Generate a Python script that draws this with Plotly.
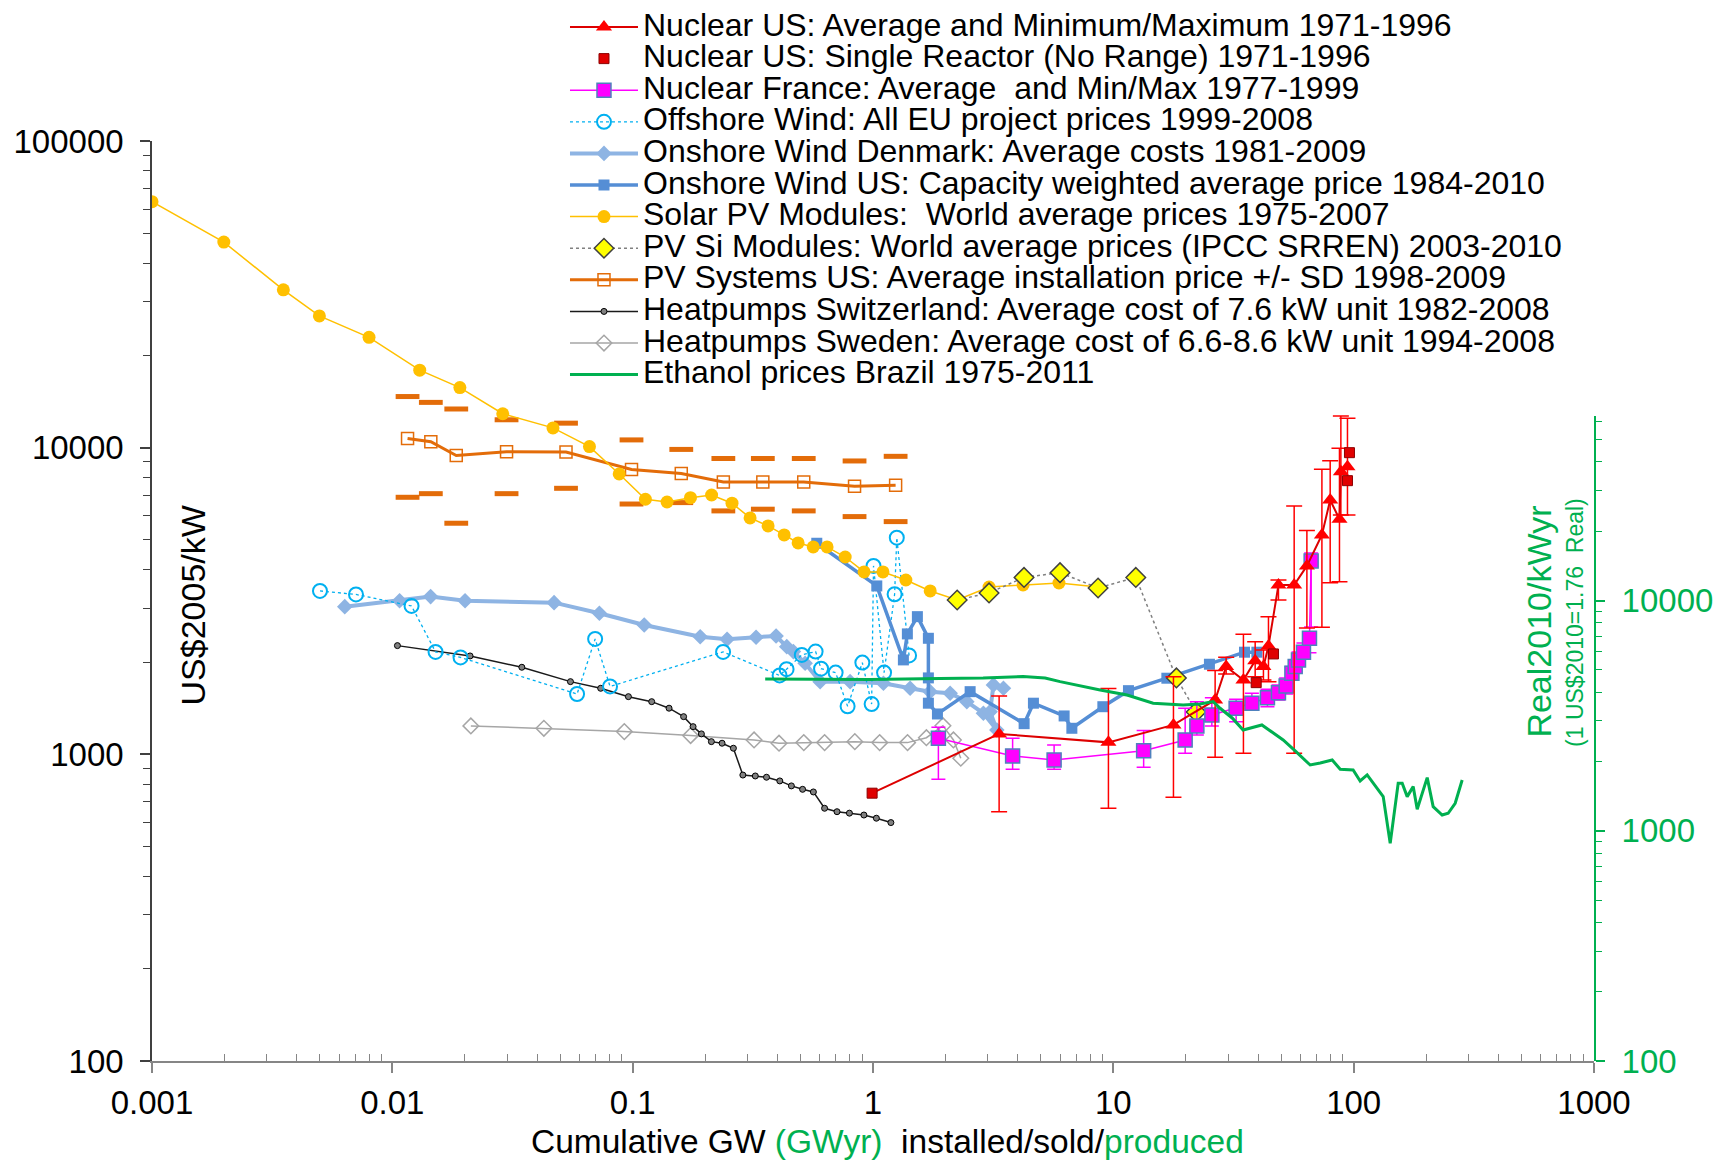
import plotly.graph_objects as go

# ---- data ----
solar_x = [0.001, 0.00199, 0.00352, 0.00497, 0.0080, 0.0130, 0.0191, 0.0288, 0.0466, 0.0661,
           0.0879, 0.113, 0.139, 0.174, 0.213, 0.259, 0.308, 0.366, 0.427, 0.488,
           0.564, 0.644, 0.766, 0.918, 1.10, 1.37, 1.73, 2.24, 3.04, 4.21, 5.94, 8.64]
solar_y = [63400, 46800, 32700, 26900, 22900, 17900, 15700, 12900, 11600, 10080,
           8210, 6790, 6650, 6870, 7010, 6590, 5900, 5555, 5195, 4890,
           4745, 4745, 4400, 3933, 3933, 3703, 3410, 3187, 3513, 3566, 3620, 3513]

pvsi_x = [2.24, 3.04, 4.25, 6.00, 8.64, 12.4, 18.3, 22.1]
pvsi_y = [3187, 3360, 3775, 3912, 3487, 3775, 1775, 1375]

pvsys_x = [0.01157, 0.01446, 0.01845, 0.02987, 0.0528, 0.0989, 0.1593, 0.2384, 0.348, 0.515, 0.838, 1.242]
pvsys_y = [10720, 10460, 9430, 9700, 9680, 8485, 8240, 7730, 7730, 7730, 7490, 7540]
pvsys_hi = [14680, 14050, 13370, 12330, 12020, 10600, 9870, 9220, 9220, 9220, 9050, 9370]
pvsys_lo = [6890, 7080, 5670, 7080, 7370, 6550, 6620, 6220, 6300, 6220, 5960, 5740]

offshore_x = [0.00500, 0.00706, 0.01202, 0.01513, 0.01922, 0.0587, 0.0698, 0.0805, 0.2378, 0.4087,
              0.4369, 0.5056, 0.5770, 0.608, 0.699, 0.784, 0.903, 0.987, 1.005, 1.112,
              1.230, 1.256, 1.413]
offshore_y = [3410, 3322, 3047, 2158, 2070, 1573, 2378, 1665, 2158, 1808,
              1895, 2110, 2163, 1902, 1847, 1435, 1991, 1458, 4116, 1847,
              3327, 5088, 2101]

denmark_x = [0.00634, 0.01072, 0.01443, 0.02007, 0.0471, 0.0727, 0.1117, 0.1910, 0.2471, 0.3262,
             0.3952, 0.4377, 0.4664, 0.5218, 0.6025, 0.8030, 1.105, 1.427, 1.729, 2.094,
             2.457, 2.880, 3.276, 3.071, 3.171, 3.489]
denmark_y = [3031, 3170, 3268, 3170, 3123, 2884, 2642, 2419, 2373, 2409,
             2432, 2245, 2163, 1982, 1726, 1726, 1705, 1642, 1601, 1582,
             1485, 1361, 1201, 1378, 1684, 1642]

onshore_x = [0.5836, 1.037, 1.338, 1.390, 1.530, 1.700, 1.700, 1.700, 1.854, 2.536,
             4.254, 4.651, 6.241, 6.721, 9.044, 11.56, 16.70, 25.11, 35.13, 39.56]
onshore_y = [4879, 3541, 2032, 2470, 2812, 2390, 1775, 1468, 1354, 1601,
             1259, 1468, 1334, 1216, 1430, 1613, 1771, 1967, 2153, 2153]

hpch_x = [0.01050, 0.02106, 0.03458, 0.0551, 0.0736, 0.0960, 0.1200, 0.1417, 0.1629, 0.1784,
          0.1932, 0.2126, 0.2355, 0.2625, 0.2874, 0.3238, 0.3605, 0.4095, 0.4575, 0.5093,
          0.5649, 0.6289, 0.7084, 0.7977, 0.9166, 1.033, 1.187]
hpch_y = [2262, 2093, 1923, 1726, 1642, 1542, 1485, 1414, 1327, 1231,
          1166, 1100, 1087, 1047, 856, 850, 842, 819, 789, 769,
          754, 667, 650, 643, 634, 619, 599]

hpse_x = [0.02122, 0.04271, 0.0923, 0.1742, 0.3200, 0.4064, 0.5152, 0.6289, 0.8402, 1.066,
          1.392, 1.668, 1.954, 2.161, 2.319]
hpse_y = [1238, 1216, 1186, 1151, 1114, 1087, 1092, 1092, 1100, 1092,
          1092, 1133, 1240, 1114, 971]

# ethanol is read on the right axis (Real2010/kWyr)
eth_x = [0.356, 0.9725, 1.902, 2.872, 4.213, 5.203, 6.004, 7.277, 8.814, 11.41,
         14.64, 19.52, 22.97, 26.03, 27.82, 31.22, 34.68, 41.5, 45.8, 50.9,
         57.7, 65.9, 72.6, 81.4, 87.9, 99.5, 106.4, 113.8, 132.7, 141.9,
         153.2, 159.2, 167.0, 176.9, 183.8, 202.3, 214.2, 233.5, 247.3, 264.5, 282.8]
eth_y = [4565, 4543, 4588, 4611, 4680, 4611, 4443, 4256, 4089, 3890,
         3580, 3520, 3555, 3638, 3405, 3090, 2741, 2882, 2687, 2480,
         2199, 1931, 1970, 2030, 1850, 1837, 1646, 1748, 1407, 882,
         1608, 1608, 1407, 1555, 1240, 1701, 1273, 1171, 1191, 1317, 1662]

nuc_x = [3.348, 9.541, 17.79, 26.52, 29.47, 34.78, 38.92, 42.13, 44.21, 48.65,
         56.55, 63.88, 73.77, 79.85, 87.28, 88.46, 94.24]
nuc_y = [1166, 1094, 1247, 1504, 1932, 1748, 2021, 1932, 2256, 3566,
         3566, 4116, 5195, 6753, 5841, 8353, 8670]
nuc_max = [1550, 1640, 1792, 1875, 2073, 2464, 2330, 2190, 2812, 3703,
           6454, 5364, 8503, 9070, 9954, 12690, 12470]
nuc_min = [650, 667, 725, 978, 1829, 1008, 1792, 1748, 1726, 3187,
           1008, 2583, 2597, 3628, 3656, 6035, 6035]

single_x = [0.9915, 39.30, 46.38, 94.24, 96.05]
single_y = [747, 1713, 2125, 7806, 9632]

fr_x = [1.871, 3.810, 5.670, 13.37, 19.90, 22.26, 25.70, 32.43, 37.71, 43.78,
        48.65, 52.37, 55.33, 57.11, 58.94, 61.82, 65.48, 66.54]
fr_y = [1128, 988, 959, 1028, 1114, 1238, 1344, 1414, 1468, 1530,
        1589, 1671, 1839, 1932, 2032, 2153, 2390, 4273]
fr_max = [1225, 1128, 1073, 1195, 1414, 1485, 1530, 1511, 1582, 1630,
          1684, 1775, 1932, 2032, 2158, 2307, 2510, 4537]
fr_min = [829, 894, 894, 907, 1008, 1157, 1238, 1278, 1395, 1430,
          1504, 1573, 1792, 1857, 1942, 2062, 2146, 2602]

x_ticks = [0.001, 0.01, 0.1, 1, 10, 100, 1000]
x_ticktext = ['0.001', '0.01', '0.1', '1', '10', '100', '1000']
y_ticks = [100, 1000, 10000, 100000]
y2_ticks = [100, 1000, 10000]

FONT = 'Liberation Sans'
GREEN = '#00B050'


def leg(name):
    # bigger text than the legend row height, like the original
    return f'<span style="font-size:32px">{name}</span>'


fig = go.Figure()

fig.add_trace(go.Scatter(x=hpse_x, y=hpse_y, mode='lines+markers', legendrank=11,
                         name=leg('Heatpumps Sweden: Average cost of 6.6-8.6 kW unit 1994-2008'),
                         line=dict(color='#A6A6A6', width=1.5),
                         marker=dict(symbol='diamond-open', size=12, color='#A6A6A6', line=dict(width=1.5))))

fig.add_trace(go.Scatter(x=hpch_x, y=hpch_y, mode='lines+markers', legendrank=10,
                         name=leg('Heatpumps Switzerland: Average cost of 7.6 kW unit 1982-2008'),
                         line=dict(color='#1A1A1A', width=1.5),
                         marker=dict(symbol='circle', size=6, color='#808080', line=dict(color='black', width=1))))

# SD dashes of PV systems
fig.add_trace(go.Scatter(x=pvsys_x + pvsys_x, y=pvsys_hi + pvsys_lo, mode='markers', showlegend=False,
                         marker=dict(symbol='line-ew', size=17, line=dict(color='#E36C09', width=5))))
fig.add_trace(go.Scatter(x=pvsys_x, y=pvsys_y, mode='lines+markers', legendrank=9,
                         name=leg('PV Systems US: Average installation price +/- SD 1998-2009'),
                         line=dict(color='#E36C09', width=3),
                         marker=dict(symbol='square-open', size=12, color='#E36C09', line=dict(width=1.5))))

fig.add_trace(go.Scatter(x=denmark_x, y=denmark_y, mode='lines+markers', legendrank=5,
                         name=leg('Onshore Wind Denmark: Average costs 1981-2009'),
                         line=dict(color='#8EB4E3', width=4),
                         marker=dict(symbol='diamond', size=12, color='#8EB4E3')))

fig.add_trace(go.Scatter(x=offshore_x, y=offshore_y, mode='lines+markers', legendrank=4,
                         name=leg('Offshore Wind: All EU project prices 1999-2008'),
                         line=dict(color='#00B0F0', width=1.3, dash='dot'),
                         marker=dict(symbol='circle-open', size=14, color='#00B0F0', line=dict(width=2))))

fig.add_trace(go.Scatter(x=onshore_x, y=onshore_y, mode='lines+markers', legendrank=6,
                         name=leg('Onshore Wind US: Capacity weighted average price 1984-2010'),
                         line=dict(color='#558ED5', width=3.5),
                         marker=dict(symbol='square', size=11, color='#558ED5')))

fig.add_trace(go.Scatter(x=solar_x, y=solar_y, mode='lines+markers', legendrank=7,
                         name=leg('Solar PV Modules:  World average prices 1975-2007'),
                         line=dict(color='#FFC000', width=1.5),
                         marker=dict(symbol='circle', size=13, color='#FFC000')))

fig.add_trace(go.Scatter(x=pvsi_x, y=pvsi_y, mode='lines+markers', legendrank=8,
                         name=leg('PV Si Modules: World average prices (IPCC SRREN) 2003-2010'),
                         line=dict(color='#808080', width=1.5, dash='dot'),
                         marker=dict(symbol='diamond', size=15, color='#FFFF00', line=dict(color='#404040', width=1.5))))

fig.add_trace(go.Scatter(x=fr_x, y=fr_y, mode='lines+markers', legendrank=3,
                         name=leg('Nuclear France: Average  and Min/Max 1977-1999'),
                         line=dict(color='#FF00FF', width=1.5),
                         marker=dict(symbol='square', size=14, color='#FF00FF', line=dict(color='#4F81BD', width=1.5)),
                         error_y=dict(type='data', symmetric=False,
                                      array=[m - v for m, v in zip(fr_max, fr_y)],
                                      arrayminus=[v - m for m, v in zip(fr_min, fr_y)],
                                      color='#FF00FF', thickness=1.5, width=7)))

# first single reactor joins the average line
fig.add_trace(go.Scatter(x=[single_x[0], nuc_x[0]], y=[single_y[0], nuc_y[0]], mode='lines',
                         showlegend=False, hoverinfo='skip', line=dict(color='#DD0000', width=2)))
fig.add_trace(go.Scatter(x=nuc_x, y=nuc_y, mode='lines+markers', legendrank=1,
                         name=leg('Nuclear US: Average and Minimum/Maximum 1971-1996'),
                         line=dict(color='#DD0000', width=2),
                         marker=dict(symbol='triangle-up', size=14, color='#FF0000'),
                         error_y=dict(type='data', symmetric=False,
                                      array=[m - v for m, v in zip(nuc_max, nuc_y)],
                                      arrayminus=[v - m for m, v in zip(nuc_min, nuc_y)],
                                      color='#FF0000', thickness=1.5, width=8)))
fig.add_trace(go.Scatter(x=single_x, y=single_y, mode='markers', legendrank=2,
                         name=leg('Nuclear US: Single Reactor (No Range) 1971-1996'),
                         marker=dict(symbol='square', size=10, color='#E00000', line=dict(color='#8C0000', width=1))))

fig.add_trace(go.Scatter(x=eth_x, y=eth_y, mode='lines', yaxis='y2', legendrank=12,
                         name=leg('Ethanol prices Brazil 1975-2011'),
                         line=dict(color=GREEN, width=3)))

minor_x = [m * 10.0 ** e for e in range(-3, 3) for m in range(2, 10)]
minor_y = [m * 10.0 ** e for e in range(2, 5) for m in range(2, 10)]
minor_y2 = [m * 10.0 ** e for e in range(2, 5) for m in range(2, 10) if m * 10.0 ** e < 63000]

# the page body keeps an 8px margin, so the figure is 8px smaller on each side
fig.update_layout(
    width=1719, height=1154,
    margin=dict(l=144, r=133, t=133, b=101, autoexpand=False),
    plot_bgcolor='rgba(0,0,0,0)', paper_bgcolor='white',
    font=dict(family=FONT, size=33, color='black'),
    xaxis=dict(type='log', range=[-3, 3], tickvals=x_ticks, ticktext=x_ticktext,
               ticks='outside', ticklen=10, tickwidth=1.5, tickcolor='#868686',
               showline=True, linecolor='#868686', linewidth=1.5, showgrid=False, zeroline=False,
               ticklabelstandoff=2,
               minor=dict(tickvals=minor_x, ticks='inside', ticklen=7, tickwidth=1, tickcolor='#868686')),
    yaxis=dict(type='log', range=[2, 5], tickvals=y_ticks, ticktext=[str(v) for v in y_ticks],
               ticks='outside', ticklen=10, tickwidth=1.5, tickcolor='#404040',
               showline=True, linecolor='#404040', linewidth=1.5, showgrid=False, zeroline=False,
               ticklabelstandoff=10,
               minor=dict(tickvals=minor_y, ticks='outside', ticklen=7, tickwidth=1.2, tickcolor='#404040')),
    yaxis2=dict(type='log', range=[2, 4.80], domain=[0, 0.7007], anchor='x', side='right',
                tickvals=y2_ticks, ticktext=[str(v) for v in y2_ticks],
                ticks='outside', ticklen=9, tickwidth=1.5, tickcolor=GREEN,
                showline=True, linecolor=GREEN, linewidth=2, showgrid=False, zeroline=False,
                tickfont=dict(color=GREEN), ticklabelstandoff=10,
                minor=dict(tickvals=minor_y2, ticks='outside', ticklen=6, tickwidth=1.2, tickcolor=GREEN)),
    legend=dict(x=0.2864, y=1.1465, xanchor='left', yanchor='top', bgcolor='rgba(0,0,0,0)',
                font=dict(family=FONT, size=22, color='black'), itemwidth=68,
                tracegroupgap=0, traceorder='normal'),
    annotations=[
        dict(text='US$2005/kW', xref='paper', yref='paper', x=0.0282, y=0.4948,
             xanchor='center', yanchor='middle',
             textangle=-90, showarrow=False, font=dict(size=34, color='black')),
        dict(text='Real2010/kWyr', xref='paper', yref='paper', x=0.9616, y=0.4772,
             xanchor='center', yanchor='middle',
             textangle=-90, showarrow=False, font=dict(size=34, color=GREEN)),
        dict(text='(1 US$2010=1.76  Real)', xref='paper', yref='paper', x=0.9868, y=0.4772,
             xanchor='center', yanchor='middle',
             textangle=-90, showarrow=False, font=dict(size=23, color=GREEN)),
        dict(text='Cumulative GW <span style="color:#00B050">(GWyr)</span>  installed/sold/'
                  '<span style="color:#00B050">produced</span>',
             xref='paper', yref='paper', x=0.5102, y=-0.0870, xanchor='center', yanchor='middle',
             showarrow=False, font=dict(size=33.5, color='black')),
    ],
)

fig.write_html("out.html")
